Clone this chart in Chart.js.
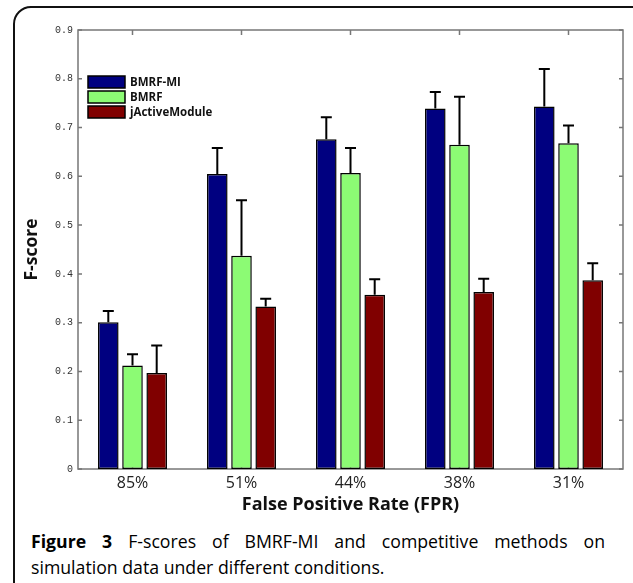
<!DOCTYPE html>
<html lang="en">
<head>
  <meta charset="UTF-8" />
  <title>Figure 3</title>
  <script src="https://cdn.jsdelivr.net/npm/chart.js"></script>
  <style>
    body {
      margin: 0;
      background: #fff;
      width: 633px;
      height: 583px;
      overflow: hidden;
      position: relative;
      font-family: 'Open Sans', sans-serif;
    }
    .frame {
      position: absolute;
      left: 13px;
      top: 6px;
      width: 640px;
      height: 620px;
      border: 2px solid #111;
      border-radius: 18px;
    }
    .plot {
      position: absolute;
      left: 0;
      top: 0;
    }
    .caption {
      position: absolute;
      left: 31px;
      top: 528px;
      width: 574px;
      font-size: 17.7px;
      line-height: 26px;
      color: #000;
    }
    .caption .l1 {
      text-align: justify;
      text-align-last: justify;
    }
  </style>
</head>
<body>
  <div class="frame"></div>
  <div class="plot"><canvas id="grafica" width="633" height="520"></canvas></div>
  <div class="caption">
    <div class="l1"><b>Figure 3</b> F-scores of BMRF-MI and competitive methods on</div>
    <div>simulation data under different conditions.</div>
  </div>

  <script>
    const categorias = ['85%', '51%', '44%', '38%', '31%'];
    const series = ['BMRF-MI', 'BMRF', 'jActiveModule'];
    const bmrfMi = [0.301, 0.605, 0.676, 0.739, 0.743];
    const bmrf = [0.212, 0.437, 0.607, 0.665, 0.668];
    const jActive = [0.197, 0.333, 0.357, 0.363, 0.387];
    // error bar size (upper only)
    const bmrfMiErr = [0.023, 0.053, 0.045, 0.034, 0.077];
    const bmrfErr = [0.023, 0.114, 0.051, 0.098, 0.036];
    const jActiveErr = [0.056, 0.016, 0.032, 0.027, 0.035];
    const yTicks = ['0', '0.1', '0.2', '0.3', '0.4', '0.5', '0.6', '0.7', '0.8', '0.9'];

    const colores = ['#000080', '#8cfb74', '#800000'];
    const errores = [bmrfMiErr, bmrfErr, jActiveErr];

    // box with inward ticks, drawn under the bars
    const marco = {
      id: 'marco',
      beforeDatasetsDraw(chart) {
        const { ctx, chartArea: a, scales: { x, y } } = chart;
        ctx.save();
        ctx.strokeStyle = '#777';
        ctx.lineWidth = 1.5;
        ctx.strokeRect(a.left, a.top, a.right - a.left, a.bottom - a.top);
        ctx.beginPath();
        y.ticks.forEach(t => {
          const py = y.getPixelForValue(t.value);
          ctx.moveTo(a.left, py); ctx.lineTo(a.left + 4, py);
          ctx.moveTo(a.right, py); ctx.lineTo(a.right - 4, py);
        });
        categorias.forEach((c, i) => {
          const px = x.getPixelForTick(i);
          ctx.moveTo(px, a.top); ctx.lineTo(px, a.top + 5);
          ctx.moveTo(px, a.bottom); ctx.lineTo(px, a.bottom - 5);
        });
        ctx.stroke();
        ctx.restore();
      }
    };

    const barrasError = {
      id: 'barrasError',
      afterDatasetsDraw(chart) {
        const { ctx, scales: { y } } = chart;
        ctx.save();
        ctx.strokeStyle = '#000';
        ctx.lineWidth = 2;
        chart.data.datasets.forEach((ds, i) => {
          const meta = chart.getDatasetMeta(i);
          meta.data.forEach((bar, j) => {
            const top = y.getPixelForValue(ds.data[j] + errores[i][j]);
            ctx.beginPath();
            ctx.moveTo(bar.x, bar.y);
            ctx.lineTo(bar.x, top);
            ctx.moveTo(bar.x - 5.5, top);
            ctx.lineTo(bar.x + 5.5, top);
            ctx.stroke();
          });
        });
        ctx.restore();
      }
    };

    const leyenda = {
      id: 'leyenda',
      afterDatasetsDraw(chart) {
        const { ctx, chartArea: a } = chart;
        ctx.save();
        ctx.font = 'bold 11.5px "Open Sans"';
        ctx.textBaseline = 'middle';
        chart.data.datasets.forEach((ds, i) => {
          const bx = a.left + 10, by = a.top + 46 + i * 15;
          ctx.fillStyle = ds.backgroundColor;
          ctx.fillRect(bx, by, 37, 12);
          ctx.strokeStyle = '#000';
          ctx.lineWidth = 1.5;
          ctx.strokeRect(bx, by, 37, 12);
          ctx.fillStyle = '#111';
          ctx.fillText(ds.label, bx + 42, by + 6.5);
        });
        ctx.restore();
      }
    };

    const ctx = document.getElementById('grafica').getContext('2d');
    window.miGrafica = new Chart(ctx, {
      type: 'bar',
      data: {
        labels: categorias,
        datasets: [bmrfMi, bmrf, jActive].map((d, i) => ({
          label: series[i],
          data: d,
          backgroundColor: colores[i],
          borderColor: '#000',
          borderWidth: 1.5,
          borderSkipped: false,
          categoryPercentage: 0.666,
          barPercentage: 0.85
        }))
      },
      options: {
        responsive: false,
        animation: false,
        layout: { padding: { top: 30, right: 10, left: 0, bottom: 0 } },
        plugins: { legend: { display: false }, tooltip: { enabled: false } },
        scales: {
          x: {
            offset: true,
            grid: { display: false, drawTicks: false },
            border: { display: false },
            ticks: { padding: 5, color: '#222', font: { family: 'Open Sans', size: 16 } },
            title: {
              display: true,
              text: 'False Positive Rate (FPR)',
              color: '#111',
              font: { family: 'Open Sans', size: 18, weight: 'bold' },
              padding: { top: 0, bottom: 4 }
            },
            afterFit(s) { s.height = 51; }
          },
          y: {
            min: 0,
            max: 0.9,
            grid: { display: false, drawTicks: false },
            border: { display: false },
            ticks: {
              stepSize: 0.1,
              padding: 5,
              color: '#333',
              font: { family: 'Liberation Mono', size: 10 },
              callback: (v, i) => yTicks[i]
            },
            title: {
              display: true,
              text: 'F-score',
              color: '#111',
              font: { family: 'Open Sans', size: 17.5, weight: 'bold' },
              padding: { top: 22, bottom: 0 }
            },
            afterFit(s) { s.width = 78; }
          }
        }
      },
      plugins: [marco, barrasError, leyenda]
    });
  </script>
</body>
</html>
